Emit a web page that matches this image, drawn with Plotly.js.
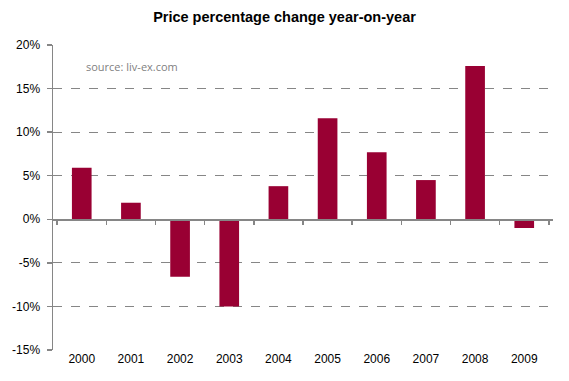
<!DOCTYPE html>
<html>
<head>
<meta charset="utf-8">
<script src="https://cdn.plot.ly/plotly-3.0.1.min.js"></script>
<style>html,body{margin:0;padding:0;background:#fff;}#chart{width:569px;height:381px;}</style>
</head>
<body>
<div id="chart"></div>
<script>
const years = ["2000","2001","2002","2003","2004","2005","2006","2007","2008","2009"];
const changePct = [5.9, 1.9, -6.6, -10.0, 3.8, 11.6, 7.7, 4.5, 17.6, -1.0];
const yTickVals = [-15, -10, -5, 0, 5, 10, 15, 20];
const yTickText = ["-15%", "-10%", "-5%", "0%", "5%", "10%", "15%", "20%"];
const titleText = "Price percentage change year-on-year";
const sourceText = "source: liv-ex.com";

const data = [
  {
    type: "bar",
    x: years,
    y: changePct,
    marker: {color: "#990033"},
    hoverinfo: "x+y"
  },
  {
    type: "scatter",
    mode: "markers",
    x: years,
    y: years.map(() => null),
    xaxis: "x2",
    showlegend: false,
    hoverinfo: "skip"
  }
];

const layout = {
  width: 569,
  height: 381,
  margin: {l: 53, r: 16, t: 45, b: 31, autoexpand: false},
  paper_bgcolor: "#fff",
  plot_bgcolor: "#fff",
  showlegend: false,
  bargap: 0.6,
  font: {family: "Liberation Sans, Arial, sans-serif", size: 12, color: "#000"},
  title: {
    text: "<b>" + titleText + "</b>",
    font: {family: "Liberation Sans, Arial, sans-serif", size: 14.5, color: "#000"},
    x: 0.5, xanchor: "center", y: 0.955, yanchor: "middle",
    automargin: false
  },
  xaxis: {
    type: "category",
    showgrid: false,
    showline: false,
    ticks: "",
    zeroline: false,
    tickfont: {size: 12},
    automargin: false,
    fixedrange: true
  },
  xaxis2: {
    type: "category",
    overlaying: "x",
    matches: "x",
    anchor: "free",
    position: 15/35,
    showline: true,
    linecolor: "#868686",
    linewidth: 1.5,
    ticks: "outside",
    tickson: "boundaries",
    ticklen: 4,
    tickcolor: "#868686",
    tickwidth: 1.5,
    showticklabels: false,
    showgrid: false,
    automargin: false
  },
  yaxis: {
    range: [-15, 20],
    tickvals: yTickVals,
    ticktext: yTickText,
    showline: true,
    linecolor: "#868686",
    linewidth: 1.5,
    ticks: "outside",
    ticklen: 5,
    tickcolor: "#868686",
    tickwidth: 1.5,
    ticklabelstandoff: 4,
    showgrid: true,
    gridcolor: "#868686",
    griddash: "dash",
    gridwidth: 1,
    zeroline: false,
    tickfont: {size: 12},
    automargin: false,
    fixedrange: true
  },
  annotations: [
    {
      text: sourceText,
      xref: "paper", yref: "paper",
      x: 0.062, y: 0.93,
      xanchor: "left", yanchor: "middle",
      showarrow: false,
      font: {family: "Open Sans, sans-serif", size: 11, color: "#7f7f7f"}
    }
  ]
};

Plotly.newPlot("chart", data, layout, {displayModeBar: false, staticPlot: true});
</script>
</body>
</html>
